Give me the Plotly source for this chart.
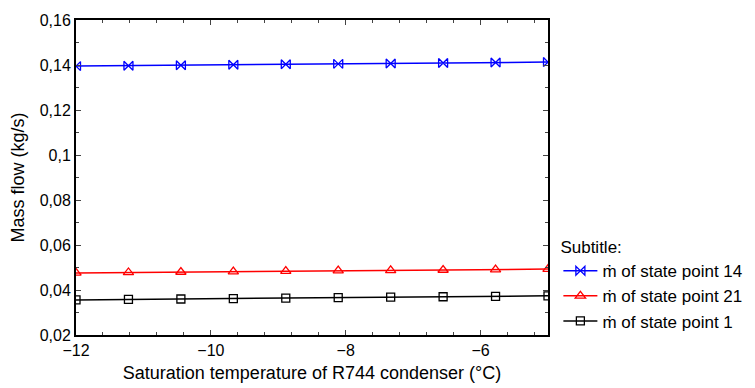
import plotly.graph_objects as go

x_temp = [-12.0, -11.2222, -10.4444, -9.6667, -8.8889, -8.1111, -7.3333, -6.5556, -5.7778, -5.0]
m14 = [0.1395, 0.1397, 0.1399, 0.1401, 0.1403, 0.1405, 0.1407, 0.1409, 0.1411, 0.1413]
m21 = [0.0476, 0.0478, 0.0480, 0.0482, 0.0484, 0.0486, 0.0487, 0.0489, 0.0491, 0.0493]
m1 = [0.0356, 0.0358, 0.0360, 0.0362, 0.0364, 0.0366, 0.0368, 0.0370, 0.0372, 0.0374]
names = ["ṁ of state point 14", "ṁ of state point 21", "ṁ of state point 1"]

fig = go.Figure()
fig.add_trace(go.Scatter(x=x_temp, y=m14, name=names[0], mode="lines+markers",
                         line=dict(color="#0000ff", width=1.5),
                         marker=dict(symbol="bowtie-open", size=9, color="#0000ff", line=dict(width=1.3))))
fig.add_trace(go.Scatter(x=x_temp, y=m21, name=names[1], mode="lines+markers",
                         line=dict(color="#ff0000", width=1.5),
                         marker=dict(symbol="triangle-up-open", size=9, color="#ff0000", line=dict(width=1.3))))
fig.add_trace(go.Scatter(x=x_temp, y=m1, name=names[2], mode="lines+markers",
                         line=dict(color="#000000", width=1.5),
                         marker=dict(symbol="square-open", size=8, color="#000000", line=dict(width=1.3))))

fig.update_layout(
    width=755, height=388,
    margin=dict(l=76, r=207, t=20, b=53, autoexpand=False),
    paper_bgcolor="white", plot_bgcolor="white",
    separators=", ",
    font=dict(family="Liberation Sans, Arial, sans-serif", size=16, color="black"),
    legend=dict(title=dict(text="Subtitle:", font=dict(size=17)),
                x=1.022, y=0.33, xanchor="left", yanchor="top",
                font=dict(size=17), bgcolor="rgba(0,0,0,0)",
                tracegroupgap=0, itemwidth=34),
    xaxis=dict(range=[-12, -5], tickvals=[-12, -10, -8, -6], ticks="inside", ticklen=5,
               showgrid=False, zeroline=False, showline=True, linecolor="black", linewidth=2,
               mirror="ticks", tickfont=dict(size=16),
               minor=dict(ticks="inside", ticklen=3, tick0=-12, dtick=0.4, showgrid=False),
               title=dict(text="Saturation temperature of R744 condenser (°C)", font=dict(size=18), standoff=8)),
    yaxis=dict(range=[0.02, 0.16], dtick=0.02, tick0=0.02, ticks="inside", ticklen=5,
               showgrid=False, zeroline=False, showline=True, linecolor="black", linewidth=2,
               mirror="ticks", tickfont=dict(size=16),
               minor=dict(ticks="inside", ticklen=3, dtick=0.01, showgrid=False),
               title=dict(text="Mass flow (kg/s)", font=dict(size=18), standoff=10)),
)

fig.write_html("out.html")
